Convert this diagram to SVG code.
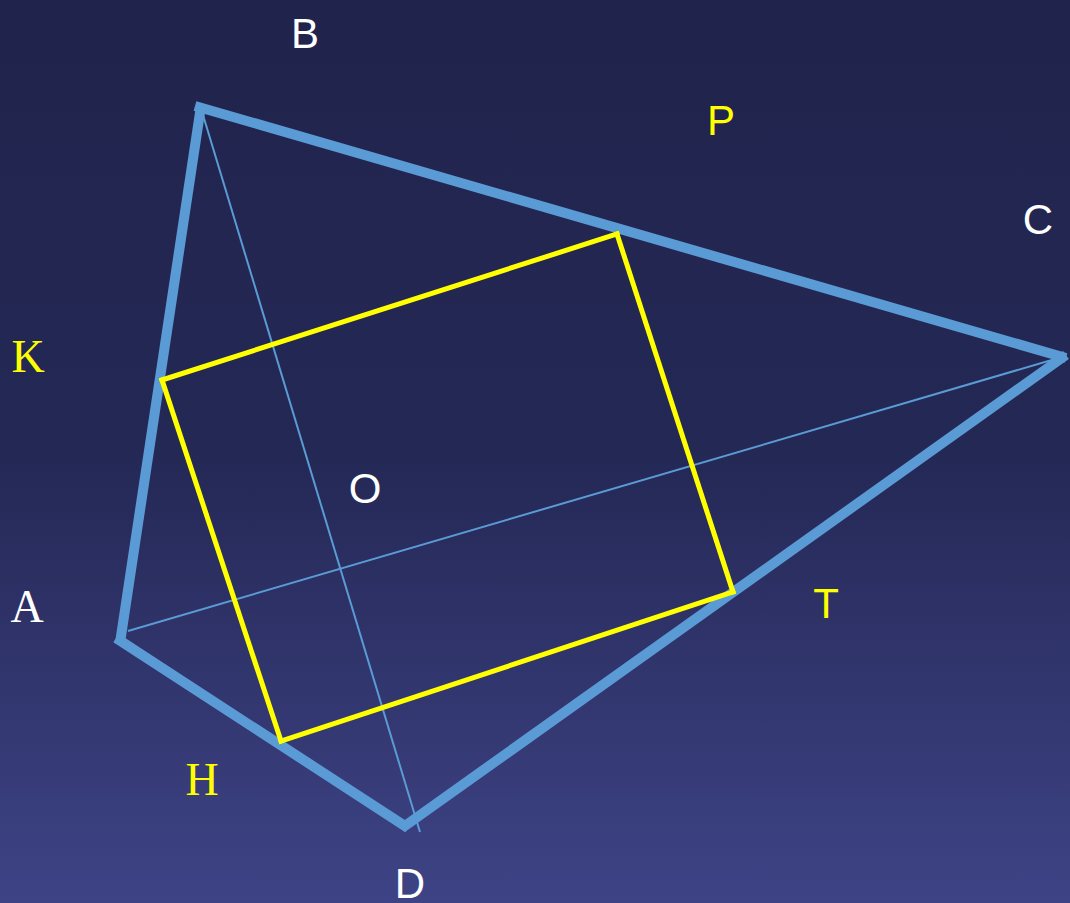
<svg xmlns="http://www.w3.org/2000/svg" width="1070" height="903" viewBox="0 0 1070 903">
<defs>
<linearGradient id="bg" x1="0" y1="0" x2="0" y2="1">
<stop offset="0" stop-color="#20244c"/>
<stop offset="0.5" stop-color="#242855"/>
<stop offset="1" stop-color="#3e4386"/>
</linearGradient>
<style>
.thick{stroke:#5b9bd5;stroke-width:10;fill:none;stroke-linecap:butt}
.thin{stroke:#5b9bd5;stroke-width:2;fill:none}
.yel{stroke:#ffff00;stroke-width:5;fill:none;stroke-linecap:square}
.sw{font-family:"Liberation Sans",Arial,sans-serif;font-size:42px;fill:#ffffff;text-anchor:middle}
.sy{font-family:"Liberation Sans",Arial,sans-serif;font-size:42px;fill:#ffff00;text-anchor:middle}
.rw{font-family:"Liberation Serif","Times New Roman",serif;font-size:46px;fill:#ffffff;text-anchor:middle}
.ry{font-family:"Liberation Serif","Times New Roman",serif;font-size:46px;fill:#ffff00;text-anchor:middle}
</style>
</defs>
<rect width="1070" height="903" fill="url(#bg)"/>
<g id="connectors">
<line class="thick" x1="195" y1="106" x2="1066" y2="358"/>
<line class="thick" x1="201" y1="106" x2="120" y2="643"/>
<line class="thick" x1="116" y1="638" x2="408" y2="828"/>
<line class="thick" x1="402" y1="828" x2="1066" y2="355"/>
<line class="thin" x1="203" y1="115" x2="420" y2="832"/>
<line class="thin" x1="128" y1="631" x2="1062" y2="357"/>
<line class="yel" x1="162" y1="380" x2="617" y2="234"/>
<line class="yel" x1="617" y1="234" x2="733" y2="592"/>
<line class="yel" x1="733" y1="592" x2="281" y2="741"/>
<line class="yel" x1="281" y1="741" x2="162" y2="380"/>
</g>
<g id="B"><text class="sw" x="305" y="48">B</text></g>
<g id="P"><text class="sy" x="721" y="135">P</text></g>
<g id="C"><text class="sw" x="1038" y="234">C</text></g>
<g id="K"><text class="ry" x="28" y="372">K</text></g>
<g id="O"><text class="sw" x="365" y="503">O</text></g>
<g id="A"><text class="rw" x="27" y="622">A</text></g>
<g id="T"><text class="sy" x="826" y="618">T</text></g>
<g id="H"><text class="ry" x="202" y="795">H</text></g>
<g id="D"><text class="sw" x="410" y="898">D</text></g>
</svg>
